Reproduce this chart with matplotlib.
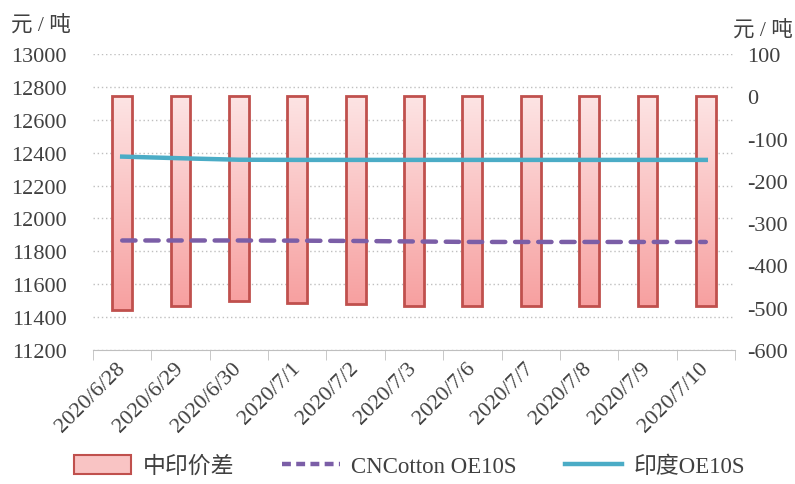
import matplotlib.pyplot as plt
import matplotlib.transforms as mtransforms
import numpy as np
from matplotlib.colors import LinearSegmentedColormap
from matplotlib.patches import Patch
from matplotlib.lines import Line2D

plt.rcParams['font.family'] = ['Liberation Serif', 'Noto Sans CJK SC', 'DejaVu Sans']
plt.rcParams['axes.unicode_minus'] = False

# 数据
dates = ['2020/6/28', '2020/6/29', '2020/6/30', '2020/7/1', '2020/7/2', '2020/7/3',
         '2020/7/6', '2020/7/7', '2020/7/8', '2020/7/9', '2020/7/10']
spread = [-505, -496, -485, -490, -491, -496, -496, -496, -496, -496, -496]   # 中印价差
cn_oe10s = [11866, 11866, 11866, 11865, 11863, 11860, 11857, 11857, 11857, 11857, 11857]
india_oe10s = [12376, 12366, 12357, 12356, 12356, 12356, 12356, 12356, 12356, 12356, 12356]

txt = '#404040'
fig = plt.figure(figsize=(7.95, 4.85), dpi=100)
ax = fig.add_axes([0.117, 0.2763, 0.8075, 0.6103])
ax2 = ax.twinx()
ax3 = ax.twinx()

x = np.arange(len(dates))

# 左轴: 网格 + 刻度
ax.set_ylim(11200, 13000)
ax.set_yticks(np.arange(11200, 13001, 200))
ax.grid(axis='y', color='#bfbfbf', linestyle=(0, (1, 2)), linewidth=1)
ax.set_xlim(-0.5, len(dates) - 0.5)
for s in ['left', 'right', 'top']:
    ax.spines[s].set_visible(False)
ax.spines['bottom'].set_color('#bfbfbf')
ax.tick_params(axis='y', length=0, pad=19, labelsize=16, labelcolor=txt)
ax.set_xticks(x)
ax.set_xticklabels(dates, rotation=45, ha='right', va='center', rotation_mode='anchor',
                   fontsize=16, color=txt)
shift = mtransforms.ScaledTranslation(-12 / 100, 0, fig.dpi_scale_trans)
for lab in ax.get_xticklabels():
    lab.set_transform(lab.get_transform() + shift)
ax.tick_params(axis='x', which='major', length=0, pad=11)
ax.set_xticks(np.arange(-0.5, len(dates)), minor=True)
ax.tick_params(axis='x', which='minor', length=7, color='#bfbfbf')

# 右轴: 渐变柱
ax2.set_ylim(-600, 100)
ax2.set_yticks(np.arange(-600, 101, 100))
for s in ax2.spines.values():
    s.set_visible(False)
ax2.tick_params(axis='y', length=0, pad=9, labelsize=16, labelcolor=txt)
cmap = LinearSegmentedColormap.from_list('pink', ['#fde4e4', '#f7a0a0'])
grad = np.linspace(0, 1, 256).reshape(-1, 1)
w = 0.34
for xi, v in zip(x, spread):
    ax2.imshow(grad, cmap=cmap, extent=[xi - w / 2, xi + w / 2, v, 0], origin='upper',
               aspect='auto', zorder=2)
ax2.bar(x, spread, width=w, facecolor='none', edgecolor='#c0504d', linewidth=2, zorder=3)
ax2.set_xlim(-0.5, len(dates) - 0.5)
ax2.set_ylim(-600, 100)

# 折线 (左轴刻度)
ax3.set_ylim(11200, 13000)
ax3.axis('off')
ax3.plot(x, cn_oe10s, color='#7b5ea7', linewidth=3.2, dashes=(3, 2.2), dash_capstyle='round')
ax3.plot(x, india_oe10s, color='#4bacc6', linewidth=3.2)
ax3.set_xlim(-0.5, len(dates) - 0.5)

fig.text(0.014, 0.945, '元 / 吨', fontsize=15.5, color=txt, va='center')
fig.text(0.922, 0.935, '元 / 吨', fontsize=15.5, color=txt, va='center')

handles = [Patch(facecolor='#f9c4c4', edgecolor='#c0504d', linewidth=1.5),
           Line2D([], [], color='#7b5ea7', linewidth=3.2, dashes=(2, 1.2)),
           Line2D([], [], color='#4bacc6', linewidth=3.2)]
fig.legend(handles, ['中印价差', 'CNCotton OE10S', '印度OE10S'], loc='center',
           bbox_to_anchor=(0.515, 0.037), ncol=3, frameon=False, fontsize=16.5,
           handlelength=2.5, handleheight=0.9, columnspacing=2.1, handletextpad=0.5,
           labelcolor=txt)

fig.savefig('out.png', dpi=100)
